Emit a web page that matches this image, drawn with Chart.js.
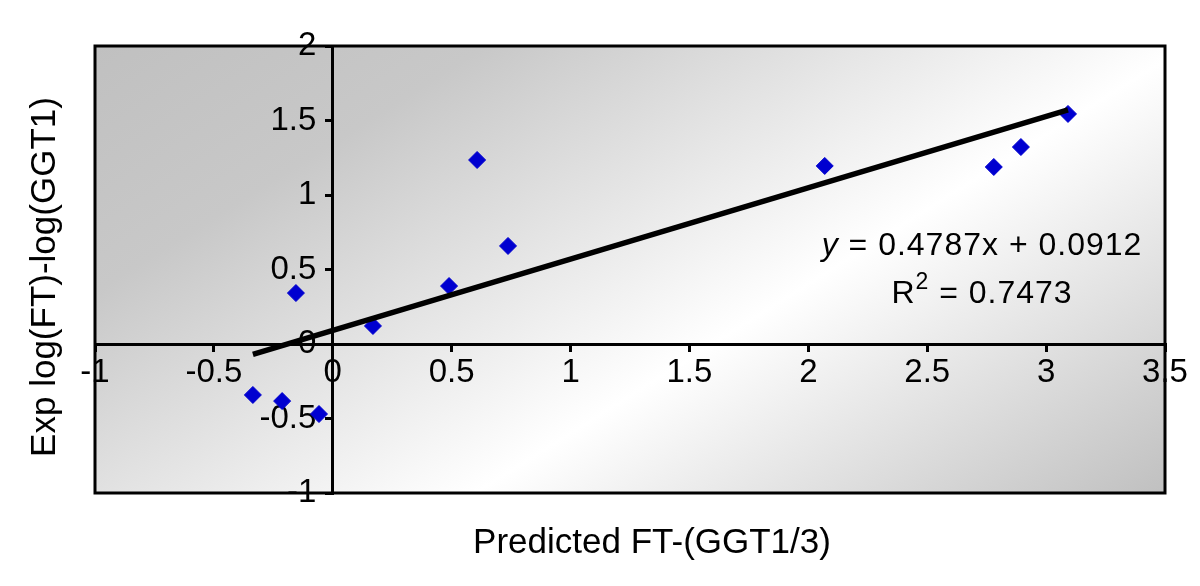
<!DOCTYPE html>
<html>
<head>
<meta charset="utf-8">
<script src="https://cdn.jsdelivr.net/npm/chart.js@4/dist/chart.umd.min.js"></script>
<style>
html,body{margin:0;padding:0;background:#fff;}
#wrap{width:1200px;height:586px;}
</style>
</head>
<body>
<div id="wrap"><canvas id="c" width="1200" height="586"></canvas></div>
<script>
// Data
const predictedX = [-0.336, -0.213, -0.058, -0.155, 0.169, 0.489, 0.607, 0.737, 2.069, 2.780, 2.894, 3.092];
const experimentalY = [-0.342, -0.383, -0.470, 0.342, 0.121, 0.389, 1.235, 0.658, 1.195, 1.188, 1.322, 1.544];
const trendSlope = 0.4787;
const trendIntercept = 0.0912;
const rSquared = 0.7473;
const xTitle = 'Predicted FT-(GGT1/3)';
const yTitle = 'Exp log(FT)-log(GGT1)';
const xMin = -1, xMax = 3.5, yMin = -1, yMax = 2, tickStep = 0.5;

const FONT = '"Liberation Sans", Arial, Helvetica, sans-serif';

const points = predictedX.map((x, i) => ({x: x, y: experimentalY[i]}));
const tx0 = Math.min(...predictedX), tx1 = Math.max(...predictedX);
const trend = [tx0, tx1].map(x => ({x: x, y: trendSlope * x + trendIntercept}));

const fmt = v => String(Math.round(v * 10) / 10);

const decorPlugin = {
  id: 'decor',
  beforeDraw(chart) {
    const ctx = chart.ctx, a = chart.chartArea;
    ctx.save();
    ctx.fillStyle = '#ffffff';
    ctx.fillRect(0, 0, chart.width, chart.height);
    const w = a.right - a.left, h = a.bottom - a.top;
    // gradient perpendicular to a bright diagonal band
    const dx = 380, dy = 605, len = Math.hypot(dx, dy);
    const sMax = (w * dx + h * dy) / len;
    const k = sMax / len;
    const g = ctx.createLinearGradient(a.left, a.top, a.left + dx * k, a.top + dy * k);
    g.addColorStop(0, '#c0c0c0');
    g.addColorStop(0.22, '#c8c8c8');
    g.addColorStop(0.613, '#ffffff');
    g.addColorStop(1, '#c0c0c0');
    ctx.fillStyle = g;
    ctx.fillRect(a.left, a.top, w, h);
    ctx.restore();
  },
  afterDraw(chart) {
    const ctx = chart.ctx, a = chart.chartArea;
    ctx.save();
    // frame
    ctx.strokeStyle = '#000';
    ctx.lineWidth = 3;
    ctx.strokeRect(a.left, a.top, a.right - a.left, a.bottom - a.top);
    // axis titles
    ctx.fillStyle = '#000';
    ctx.textAlign = 'center';
    ctx.textBaseline = 'middle';
    ctx.font = '35px ' + FONT;
    ctx.fillText(xTitle, 652, 543);
    ctx.save();
    ctx.translate(45, 277);
    ctx.rotate(-Math.PI / 2);
    ctx.fillText(yTitle, 0, 0);
    ctx.restore();
    // equation
    const cx = 982;
    const fs = 32;
    ctx.letterSpacing = '1px';
    const pY = 'y';
    const pRest = ' = ' + trendSlope.toFixed(4) + 'x + ' + trendIntercept.toFixed(4);
    ctx.textAlign = 'left';
    ctx.font = 'italic ' + fs + 'px ' + FONT;
    const wY = ctx.measureText(pY).width;
    ctx.font = fs + 'px ' + FONT;
    const wRest = ctx.measureText(pRest).width;
    let x = cx - (wY + wRest) / 2;
    ctx.font = 'italic ' + fs + 'px ' + FONT;
    ctx.fillText(pY, x, 246);
    ctx.font = fs + 'px ' + FONT;
    ctx.fillText(pRest, x + wY, 246);
    // R^2 line
    const r1 = 'R', r2 = '2', r3 = ' = ' + rSquared.toFixed(4);
    ctx.font = fs + 'px ' + FONT;
    const w1 = ctx.measureText(r1).width, w3 = ctx.measureText(r3).width;
    ctx.font = Math.round(fs * 0.72) + 'px ' + FONT;
    const w2 = ctx.measureText(r2).width;
    x = cx - (w1 + w2 + w3) / 2;
    ctx.font = fs + 'px ' + FONT;
    ctx.fillText(r1, x, 294);
    ctx.font = Math.round(fs * 0.72) + 'px ' + FONT;
    ctx.fillText(r2, x + w1, 283);
    ctx.font = fs + 'px ' + FONT;
    ctx.fillText(r3, x + w1 + w2, 294);
    ctx.restore();
  }
};

new Chart(document.getElementById('c'), {
  type: 'scatter',
  data: {
    datasets: [
      {
        type: 'line',
        label: 'Trend',
        data: trend,
        borderColor: '#000',
        borderWidth: 5.5,
        pointRadius: 0,
        fill: false,
        order: 0
      },
      {
        label: 'Data',
        data: points,
        pointStyle: 'rectRot',
        pointRadius: 8.5,
        pointHoverRadius: 8.5,
        backgroundColor: '#0000d0',
        borderColor: '#0000d0',
        borderWidth: 1,
        order: 1
      }
    ]
  },
  options: {
    responsive: false,
    animation: false,
    devicePixelRatio: 1,
    layout: {padding: {left: 95, right: 35, top: 46, bottom: 93}},
    plugins: {legend: {display: false}, tooltip: {enabled: false}},
    scales: {
      x: {
        type: 'linear',
        position: {y: 0},
        min: xMin, max: xMax,
        ticks: {
          stepSize: tickStep,
          color: '#000',
          font: {family: FONT, size: 33},
          padding: 3,
          maxRotation: 0,
          autoSkip: false,
          callback: v => fmt(v)
        },
        grid: {display: true, drawOnChartArea: false, drawTicks: true, tickLength: 6, color: '#000', lineWidth: 3},
        border: {display: true, color: '#000', width: 3}
      },
      y: {
        type: 'linear',
        position: {x: 0},
        min: yMin, max: yMax,
        ticks: {
          stepSize: tickStep,
          color: '#000',
          font: {family: FONT, size: 33},
          autoSkip: false,
          callback: v => fmt(v) + '\u2002'
        },
        grid: {display: true, drawOnChartArea: false, drawTicks: true, tickLength: 6, color: '#000', lineWidth: 3},
        border: {display: true, color: '#000', width: 3}
      }
    }
  },
  plugins: [decorPlugin]
});
</script>
</body>
</html>
